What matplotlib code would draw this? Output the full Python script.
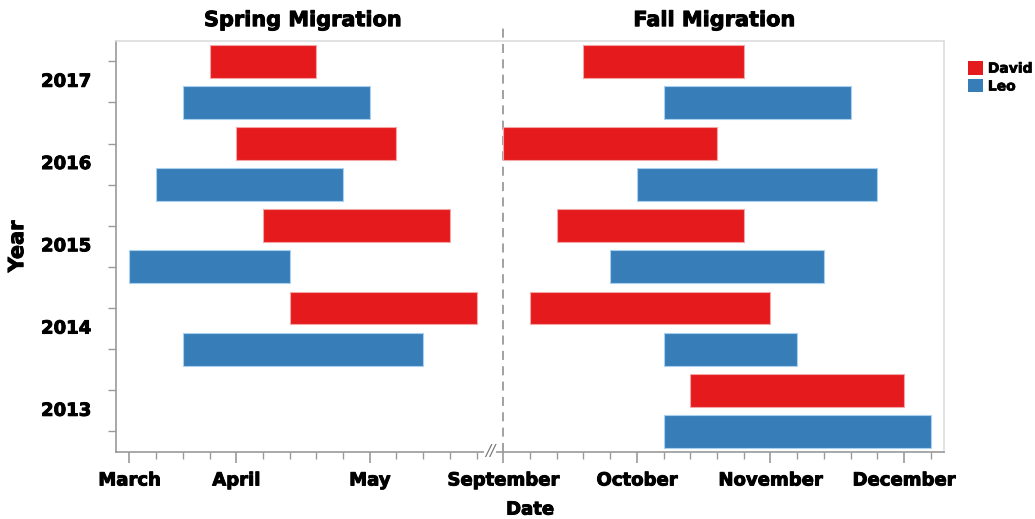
import numpy as np
import matplotlib
matplotlib.use("Agg")
import matplotlib.pyplot as plt
import matplotlib.patheffects as pe
from matplotlib.patches import Patch
from matplotlib.transforms import blended_transform_factory

# x values are in week steps on the (broken) date axis:
# 0 = start of March ... 13 = end of May, 14 = start of September ... 30
years = [2017, 2016, 2015, 2014, 2013]
david_spring_start = [3, 4, 5, 6, np.nan]
david_spring_end = [7, 10, 12, 13, np.nan]
leo_spring_start = [2, 1, 0, 2, np.nan]
leo_spring_end = [9, 8, 6, 11, np.nan]
david_fall_start = [17, 14, 16, 15, 21]
david_fall_end = [23, 22, 23, 24, 29]
leo_fall_start = [20, 19, 18, 20, 20]
leo_fall_end = [27, 28, 26, 25, 30]

month_labels = ["March", "April", "May", "September", "October", "November", "December"]
month_ticks = [0, 4, 9, 14, 19, 24, 29]

RED = "#e41a1c"
BLUE = "#377eb8"
GRID = "#9a9a9a"
HEAVY = [pe.withStroke(linewidth=0.7, foreground="black")]


def draw_bars(ax, rows, starts, ends, color, edge):
    s = np.array(starts, dtype=float)
    e = np.array(ends, dtype=float)
    ok = ~np.isnan(s)
    ax.barh(np.array(rows)[ok], (e - s)[ok], left=s[ok], height=0.8,
            color=color, edgecolor=edge, linewidth=0.8, zorder=3)


def main():
    plt.rcParams["font.family"] = ["DejaVu Sans"]
    plt.rcParams["font.weight"] = "bold"

    fig = plt.figure(figsize=(10.35, 5.19), dpi=100)
    ax = fig.add_axes([0.1121, 0.1291, 0.8, 0.7925])

    n = len(years)
    david_rows = [2 * i for i in range(n)]
    leo_rows = [2 * i + 1 for i in range(n)]

    draw_bars(ax, david_rows, david_spring_start, david_spring_end, RED, "#f4a6a6")
    draw_bars(ax, david_rows, david_fall_start, david_fall_end, RED, "#f4a6a6")
    draw_bars(ax, leo_rows, leo_spring_start, leo_spring_end, BLUE, "#a9d0ee")
    draw_bars(ax, leo_rows, leo_fall_start, leo_fall_end, BLUE, "#a9d0ee")

    ax.set_xlim(-0.5, 30.5)
    ax.set_ylim(2 * n - 0.5, -0.5)

    # x axis
    ax.set_xticks(month_ticks, labels=month_labels)
    ax.set_xticks(np.arange(0, 31), minor=True)
    ax.tick_params(axis="x", which="major", length=8, width=1.2, color=GRID,
                   labelsize=13, pad=6)
    ax.tick_params(axis="x", which="minor", length=5, width=1, color=GRID)
    ax.set_xlabel("Date", fontsize=13, fontweight="bold", labelpad=8,
                  path_effects=HEAVY)

    # y axis: ticks at each bar, year labels between each pair
    ax.set_yticks(range(2 * n), labels=[""] * (2 * n))
    ax.set_yticks([2 * i + 0.45 for i in range(n)], labels=[str(y) for y in years],
                  minor=True)
    ax.tick_params(axis="y", which="major", length=6, width=1, color=GRID)
    ax.tick_params(axis="y", which="minor", length=0, labelsize=13, pad=18)
    ax.set_ylabel("Year", fontsize=15, fontweight="bold", labelpad=10,
                  path_effects=HEAVY)

    for lab in ax.get_xticklabels() + ax.get_yticklabels(minor=True):
        lab.set_path_effects(HEAVY)

    for side in ["left", "bottom"]:
        ax.spines[side].set_color(GRID)
        ax.spines[side].set_linewidth(1.2)
    for side in ["top", "right"]:
        ax.spines[side].set_color("#dddddd")
        ax.spines[side].set_linewidth(1.2)

    # season divider
    ax.axvline(14, ymin=0, ymax=1.03, color=GRID, linestyle=(0, (5, 3.5)),
               linewidth=1.3, clip_on=False, zorder=2)

    trans = blended_transform_factory(ax.transData, ax.transAxes)
    # axis break marker
    ax.text(13.5, 0, "//", transform=trans, ha="center", va="center",
            fontsize=11, color="#777777", fontweight="normal", style="italic",
            bbox=dict(boxstyle="square,pad=0.05", fc="white", ec="none"),
            clip_on=False, zorder=5)

    ax.text(6.5, 1.05, "Spring Migration", transform=trans, ha="center",
            va="center", fontsize=15, fontweight="bold", path_effects=HEAVY)
    ax.text(21.9, 1.05, "Fall Migration", transform=trans, ha="center",
            va="center", fontsize=15, fontweight="bold", path_effects=HEAVY)

    handles = [Patch(facecolor=RED, edgecolor="none", label="David"),
               Patch(facecolor=BLUE, edgecolor="none", label="Leo")]
    leg = fig.legend(handles=handles, loc="upper left", bbox_to_anchor=(0.935, 0.882),
                     frameon=False, fontsize=10, handlelength=1.1, handleheight=1.1,
                     handletextpad=0.35, labelspacing=0.25, borderaxespad=0,
                     borderpad=0)
    for t in leg.get_texts():
        t.set_path_effects([pe.withStroke(linewidth=0.5, foreground="black")])

    fig.savefig("out.png", dpi=100)


if __name__ == "__main__":
    main()
